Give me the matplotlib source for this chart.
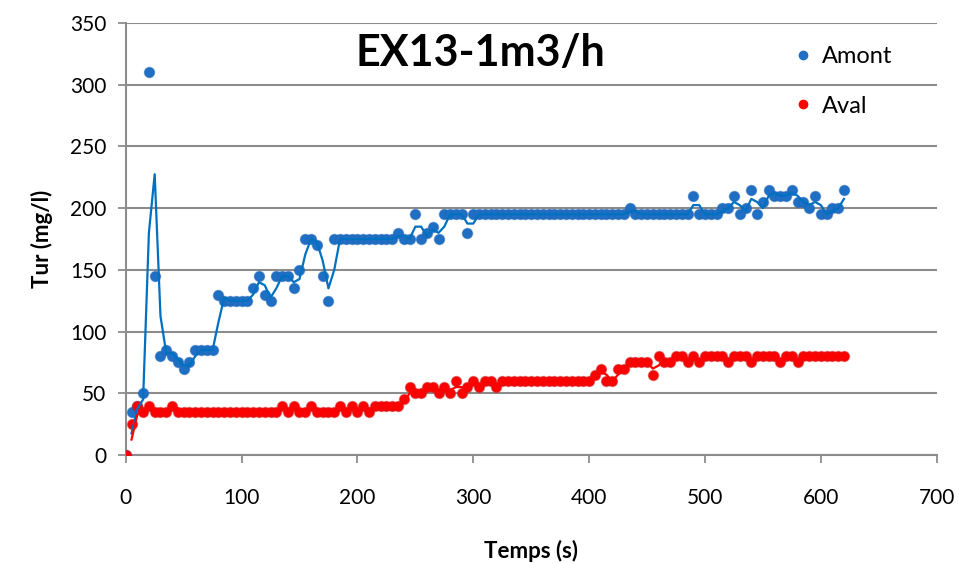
import matplotlib
matplotlib.use("Agg")
import matplotlib.pyplot as plt
from matplotlib.lines import Line2D
import numpy as np
import pandas as pd

plt.rcParams['font.family'] = ['Lato', 'DejaVu Sans']

# Sampling time (s), one reading every 5 s
temps = list(range(0, 625, 5))

# Turbidity upstream (mg/l)
amont = [0, 35, 40, 50, 310, 145, 80, 85, 80, 75, 70, 75, 85, 85, 85, 85,
         130, 125, 125, 125, 125, 125, 135, 145, 130, 125, 145, 145, 145, 135, 150, 175, 175, 170, 145, 125,
         175, 175, 175, 175, 175, 175, 175, 175, 175, 175, 175,
         180, 175, 175, 195, 175, 180, 185, 175, 195, 195, 195, 195, 180,
         195, 195, 195, 195, 195, 195, 195, 195, 195, 195, 195, 195, 195, 195,
         195, 195, 195, 195, 195, 195, 195, 195, 195, 195, 195, 195, 195,
         200,
         195, 195, 195, 195, 195, 195, 195, 195, 195, 195,
         210,
         195, 195, 195, 195,
         200, 200, 210, 195, 200, 215, 195, 205, 215, 210, 210, 210, 215, 205, 205, 200, 210,
         195, 195, 200, 200, 215]

# Turbidity downstream (mg/l)
aval = [0, 25, 40, 35, 40, 35, 35, 35, 40,
        35, 35, 35, 35, 35, 35, 35, 35, 35, 35, 35, 35, 35, 35, 35, 35, 35, 35,
        40, 35, 40, 35, 35, 40, 35, 35, 35, 35, 40, 35, 40, 35, 40, 35, 40, 40, 40, 40, 40,
        45, 55, 50, 50, 55, 55, 50, 55, 50, 60, 50, 55, 60, 55, 60, 60, 55,
        60, 60, 60, 60, 60, 60, 60, 60, 60, 60, 60, 60, 60, 60, 60, 60,
        65, 70, 60, 60, 70, 70, 75, 75, 75, 75, 65, 80,
        75, 75, 80, 80, 75, 80, 75, 80, 80, 80, 80, 75, 80, 80, 80, 75, 80, 80, 80, 80,
        75, 80, 80, 75, 80, 80, 80, 80, 80, 80, 80, 80]

blue = '#1F6FC5'
red = '#FF0000'
grid_col = '#8C8C8C'

fig = plt.figure(figsize=(9.59, 5.64), dpi=100)
ax = fig.add_axes([0.1311, 0.1933, 0.8456, 0.7659])

# 2-point moving averages (trend lines)
ma_amont = pd.Series(amont).rolling(2).mean()
ma_aval = pd.Series(aval).rolling(2).mean()

ax.plot(temps, amont, 'o', color=blue, ms=7.2, mec=(0.12, 0.40, 0.72, 0.6), mew=1.0, zorder=3)
ax.plot(temps, aval, 'o', color=red, ms=7.2, mec=(0.80, 0.1, 0.1, 0.5), mew=1.0, zorder=3)
ax.plot(temps, ma_amont, '-', color='#0070C0', lw=1.6, zorder=4)
ax.plot(temps, ma_aval, '-', color=red, lw=1.6, zorder=4)

ax.set_xlim(0, 700)
ax.set_ylim(0, 350)
ax.set_xticks(range(0, 701, 100))
ax.set_yticks(range(0, 351, 50))
ax.yaxis.grid(True, color=grid_col, lw=1.5)
ax.set_axisbelow(True)
for s in ['top', 'right']:
    ax.spines[s].set_visible(False)
for s in ['left', 'bottom']:
    ax.spines[s].set_color(grid_col)
    ax.spines[s].set_linewidth(1.5)
ax.tick_params(axis='both', colors=grid_col, length=6, width=1.3, labelcolor='black', labelsize=15)
ax.tick_params(axis='x', pad=18)
ax.tick_params(axis='y', pad=8)

ax.set_xlabel('Temps (s)', fontsize=16, fontweight='bold', labelpad=23)
ax.set_ylabel('Tur (mg/l)', fontsize=16, fontweight='bold', labelpad=12)

ax.text(0.437, 0.93, 'EX13-1m3/h', transform=ax.transAxes, ha='center', va='center',
        fontsize=31, fontweight='bold')

handles = [Line2D([], [], ls='', marker='o', color=blue, ms=6),
           Line2D([], [], ls='', marker='o', color=red, ms=6)]
ax.legend(handles, ['Amont', 'Aval'], loc='upper left', bbox_to_anchor=(0.80, 0.995),
          frameon=False, fontsize=17, handlelength=0.6, handletextpad=0.5, labelspacing=1.2)

fig.savefig('out.png', dpi=100)
